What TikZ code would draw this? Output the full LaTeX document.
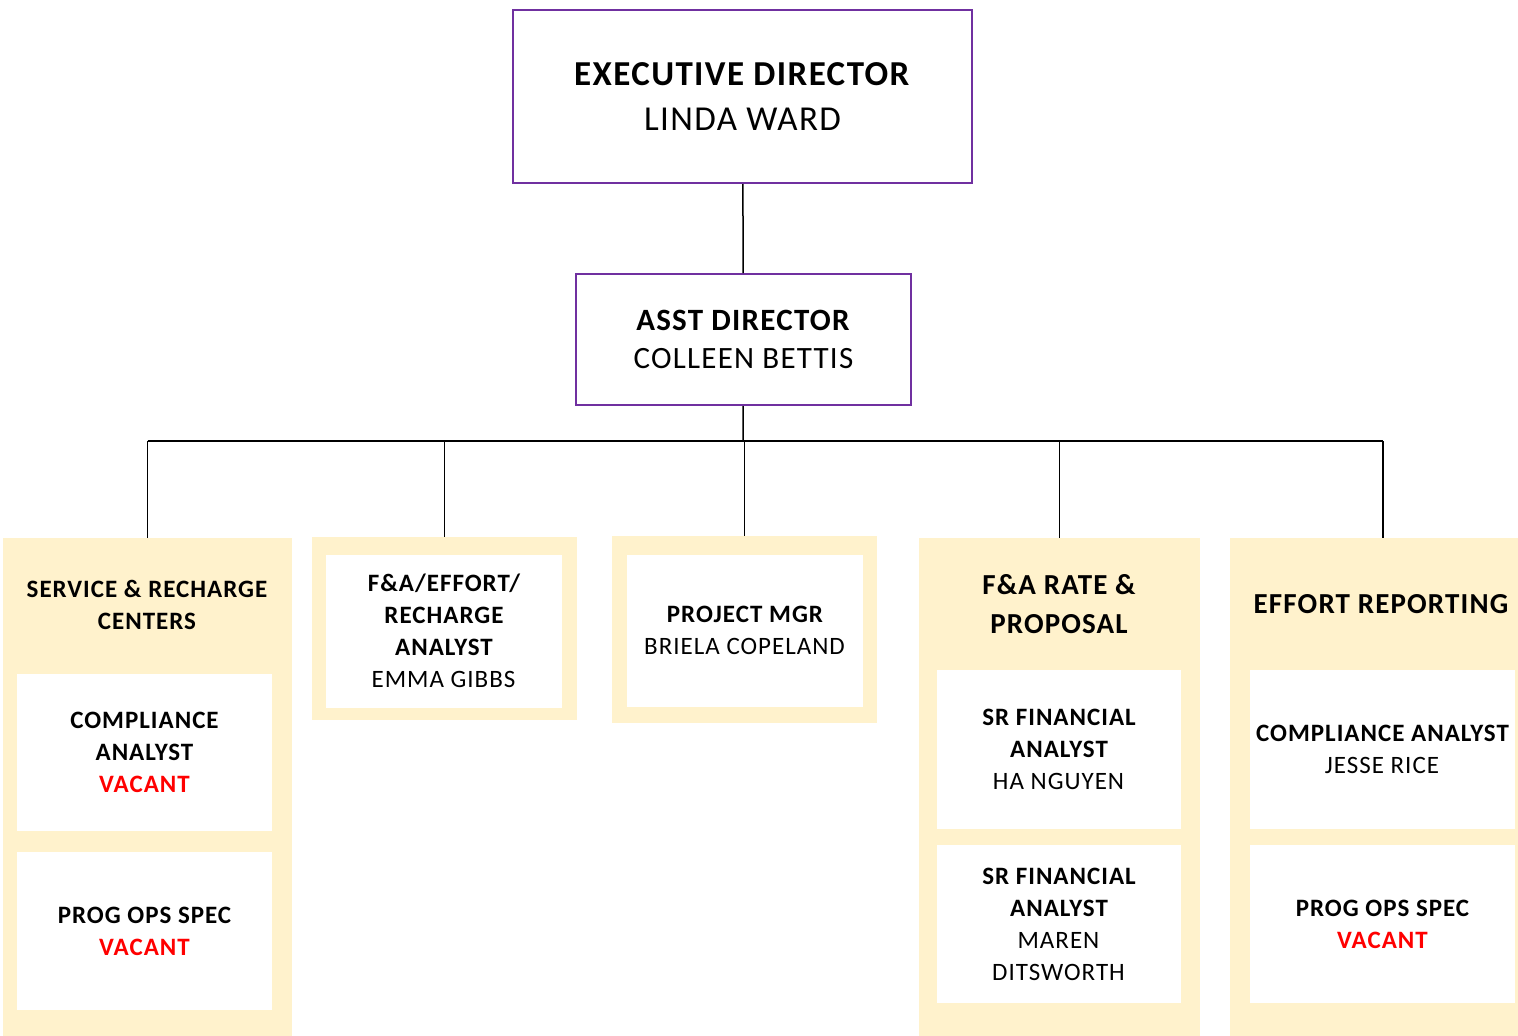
\documentclass[tikz,border=0pt]{standalone}
\usepackage{fontspec}
\setmainfont{Carlito}[LetterSpace=4]
\usetikzlibrary{positioning}
\definecolor{boxpurple}{HTML}{7030A0}
\definecolor{unitbeige}{HTML}{FFF2CC}
\definecolor{vacred}{HTML}{FF0000}
\newcommand{\vacant}{\textcolor{vacred}{VACANT}}

\begin{document}
\begin{tikzpicture}[x=1pt,y=-1pt,
  head/.style={draw=boxpurple,line width=2pt,fill=white,inner sep=0pt,align=center},
  unit/.style={fill=unitbeige,inner sep=0pt},
  card/.style={fill=white,inner sep=0pt,align=center,font=\bfseries\fontsize{25}{32}\selectfont},
  title/.style={align=center,font=\bfseries\fontsize{25}{32}\selectfont},
  link/.style={line width=1.5pt}]
\useasboundingbox (0,0) rectangle (1518,1036);
\clip (0,0) rectangle (1518,1036);

% top of the chart
\node[head,minimum width=459,minimum height=173,font=\fontsize{35}{45}\selectfont] (exec) at (742.5,96.5)
  {\textbf{EXECUTIVE DIRECTOR}\\LINDA WARD};
\node[head,minimum width=335,minimum height=131,font=\fontsize{31}{38}\selectfont] (asst) at (743.5,339.5)
  {\textbf{ASST DIRECTOR}\\COLLEEN BETTIS};
\coordinate (bus) at (743,441);

% units
\node[unit,minimum width=289,minimum height=522] (svc) at (147.5,799) {};
\node[unit,minimum width=265,minimum height=183] (fa) at (444.5,628.5) {};
\node[unit,minimum width=265,minimum height=187] (pm) at (744.5,629.5) {};
\node[unit,minimum width=281,minimum height=522] (rate) at (1059.5,799) {};
\node[unit,minimum width=306,minimum height=522] (eff) at (1383,799) {};

% unit titles
\node[title] (svct) at (147,605) {SERVICE \& RECHARGE\\CENTERS};
\node[title,font=\bfseries\fontsize{29}{39}\selectfont] (ratet) at (1059,604) {F\&A RATE \&\\PROPOSAL};
\node[title,font=\bfseries\fontsize{29}{39}\selectfont] (efft) at (1381,604) {EFFORT REPORTING};

% staff
\node[card,minimum width=255,minimum height=157] (ca1) at (144.5,752) {COMPLIANCE\\ANALYST\\\vacant};
\node[card,minimum width=255,minimum height=158] (ops1) at (144.5,931) {PROG OPS SPEC\\\vacant};
\node[card,minimum width=236,minimum height=153] (fra) at (444,631) {F\&A/EFFORT/\\RECHARGE\\ANALYST\\\textmd{EMMA GIBBS}};
\node[card,minimum width=236,minimum height=152] (mgr) at (745,630.5) {PROJECT MGR\\\textmd{BRIELA COPELAND}};
\node[card,minimum width=244,minimum height=159] (sfa1) at (1059,749) {SR FINANCIAL\\ANALYST\\\textmd{HA NGUYEN}};
\node[card,minimum width=244,minimum height=158] (sfa2) at (1059,924) {SR FINANCIAL\\ANALYST\\\textmd{MAREN}\\\textmd{DITSWORTH}};
\node[card,minimum width=265,minimum height=159] (ca2) at (1382.5,749) {COMPLIANCE ANALYST\\\textmd{JESSE RICE}};
\node[card,minimum width=265,minimum height=158] (ops2) at (1382.5,924) {PROG OPS SPEC\\\vacant};

% connectors
\draw[link] (exec) -- (asst);
\draw[link] (asst) -- (bus);
\draw[link] (bus -| svc.north) -- (bus -| eff.north);
\foreach \u in {svc,fa,pm,rate,eff}
  \draw[link] (bus -| \u.north) -- (\u.north);
\end{tikzpicture}
\end{document}
